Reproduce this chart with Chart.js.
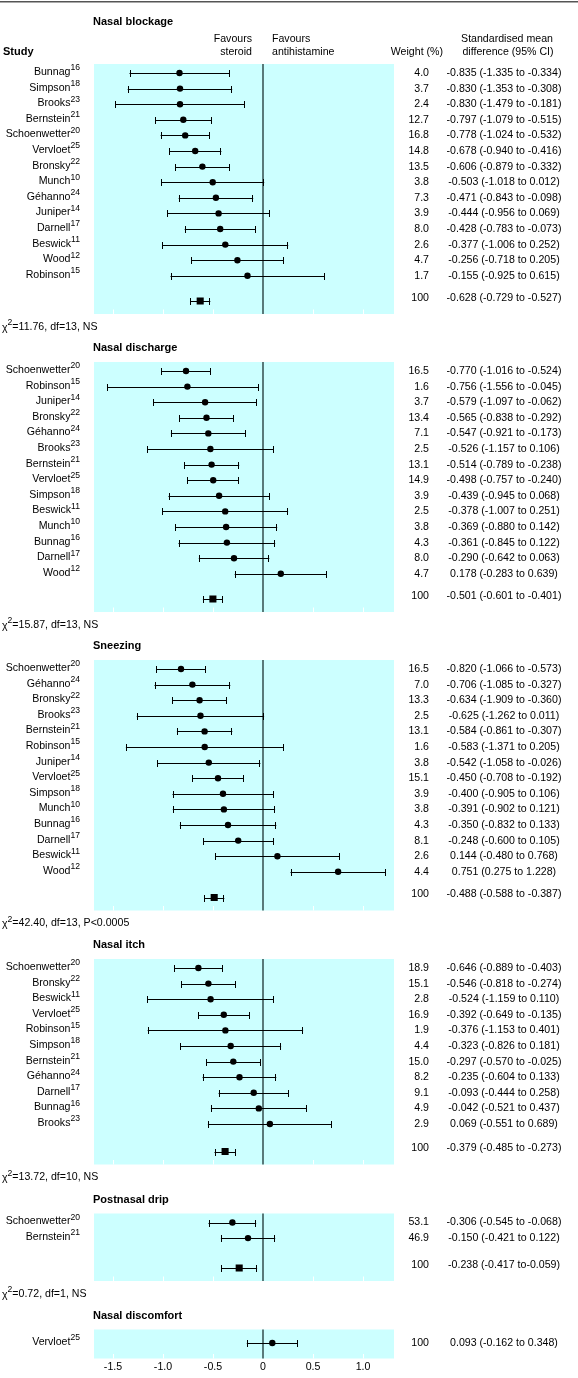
<!DOCTYPE html>
<html>
<head>
<meta charset="utf-8">
<title>Forest plot - steroid vs antihistamine</title>
<script src="https://cdn.jsdelivr.net/npm/chart.js@4.4.0/dist/chart.umd.min.js"></script>
<style>
  html, body { margin: 0; padding: 0; background: #fff; }
  .wrap { position: relative; width: 578px; height: 1378px; }
</style>
</head>
<body>
<div class="wrap"><canvas id="forest"></canvas></div>
<script>
// Reference numbers shown as superscripts
const refNumbers = {
    Bunnag: 16, Simpson: 18, Brooks: 23, Bernstein: 21, Schoenwetter: 20, Vervloet: 25, Bronsky: 22,
    Munch: 10, 'Géhanno': 24, Juniper: 14, Darnell: 17, Beswick: 11, Wood: 12, Robinson: 15
};

// Nasal blockage
const blockageStudies = ['Bunnag', 'Simpson', 'Brooks', 'Bernstein', 'Schoenwetter', 'Vervloet', 'Bronsky', 'Munch', 'Géhanno', 'Juniper', 'Darnell', 'Beswick', 'Wood', 'Robinson'];
const blockageWeights = [4.0, 3.7, 2.4, 12.7, 16.8, 14.8, 13.5, 3.8, 7.3, 3.9, 8.0, 2.6, 4.7, 1.7];
const blockageSmd = [-0.835, -0.830, -0.830, -0.797, -0.778, -0.678, -0.606, -0.503, -0.471, -0.444, -0.428, -0.377, -0.256, -0.155];
const blockageLower = [-1.335, -1.353, -1.479, -1.079, -1.024, -0.940, -0.879, -1.018, -0.843, -0.956, -0.783, -1.006, -0.718, -0.925];
const blockageUpper = [-0.334, -0.308, -0.181, -0.515, -0.532, -0.416, -0.332, 0.012, -0.098, 0.069, -0.073, 0.252, 0.205, 0.615];
const blockagePooled = [-0.628, -0.729, -0.527];
const blockageHet = ['11.76', 13, 'NS'];

// Nasal discharge
const dischargeStudies = ['Schoenwetter', 'Robinson', 'Juniper', 'Bronsky', 'Géhanno', 'Brooks', 'Bernstein', 'Vervloet', 'Simpson', 'Beswick', 'Munch', 'Bunnag', 'Darnell', 'Wood'];
const dischargeWeights = [16.5, 1.6, 3.7, 13.4, 7.1, 2.5, 13.1, 14.9, 3.9, 2.5, 3.8, 4.3, 8.0, 4.7];
const dischargeSmd = [-0.770, -0.756, -0.579, -0.565, -0.547, -0.526, -0.514, -0.498, -0.439, -0.378, -0.369, -0.361, -0.290, 0.178];
const dischargeLower = [-1.016, -1.556, -1.097, -0.838, -0.921, -1.157, -0.789, -0.757, -0.945, -1.007, -0.880, -0.845, -0.642, -0.283];
const dischargeUpper = [-0.524, -0.045, -0.062, -0.292, -0.173, 0.106, -0.238, -0.240, 0.068, 0.251, 0.142, 0.122, 0.063, 0.639];
const dischargePooled = [-0.501, -0.601, -0.401];
const dischargeHet = ['15.87', 13, 'NS'];

// Sneezing (Bronsky's lower limit is printed as -1.909 but drawn at -0.909)
const sneezingStudies = ['Schoenwetter', 'Géhanno', 'Bronsky', 'Brooks', 'Bernstein', 'Robinson', 'Juniper', 'Vervloet', 'Simpson', 'Munch', 'Bunnag', 'Darnell', 'Beswick', 'Wood'];
const sneezingWeights = [16.5, 7.0, 13.3, 2.5, 13.1, 1.6, 3.8, 15.1, 3.9, 3.8, 4.3, 8.1, 2.6, 4.4];
const sneezingSmd = [-0.820, -0.706, -0.634, -0.625, -0.584, -0.583, -0.542, -0.450, -0.400, -0.391, -0.350, -0.248, 0.144, 0.751];
const sneezingLower = [-1.066, -1.085, -0.909, -1.262, -0.861, -1.371, -1.058, -0.708, -0.905, -0.902, -0.832, -0.600, -0.480, 0.275];
const sneezingUpper = [-0.573, -0.327, -0.360, 0.011, -0.307, 0.205, -0.026, -0.192, 0.106, 0.121, 0.133, 0.105, 0.768, 1.228];
const sneezingPooled = [-0.488, -0.588, -0.387];
const sneezingHet = ['42.40', 13, 'P<0.0005'];

// Nasal itch
const itchStudies = ['Schoenwetter', 'Bronsky', 'Beswick', 'Vervloet', 'Robinson', 'Simpson', 'Bernstein', 'Géhanno', 'Darnell', 'Bunnag', 'Brooks'];
const itchWeights = [18.9, 15.1, 2.8, 16.9, 1.9, 4.4, 15.0, 8.2, 9.1, 4.9, 2.9];
const itchSmd = [-0.646, -0.546, -0.524, -0.392, -0.376, -0.323, -0.297, -0.235, -0.093, -0.042, 0.069];
const itchLower = [-0.889, -0.818, -1.159, -0.649, -1.153, -0.826, -0.570, -0.604, -0.444, -0.521, -0.551];
const itchUpper = [-0.403, -0.274, 0.110, -0.135, 0.401, 0.181, -0.025, 0.133, 0.258, 0.437, 0.689];
const itchPooled = [-0.379, -0.485, -0.273];
const itchHet = ['13.72', 10, 'NS'];

// Postnasal drip
const dripStudies = ['Schoenwetter', 'Bernstein'];
const dripWeights = [53.1, 46.9];
const dripSmd = [-0.306, -0.150];
const dripLower = [-0.545, -0.421];
const dripUpper = [-0.068, 0.122];
const dripPooled = [-0.238, -0.417, -0.059];
const dripHet = ['0.72', 1, 'NS'];

// Nasal discomfort
const discomfortStudies = ['Vervloet'];
const discomfortWeights = [100];
const discomfortSmd = [0.093];
const discomfortLower = [-0.162];
const discomfortUpper = [0.348];

// Axis
const X_MIN = -1.69;
const X_MAX = 1.31;
const xTickValues = [-1.5, -1.0, -0.5, 0, 0.5, 1.0];

// Text that is printed differently from the plotted numbers
const printedText = {
    'Sneezing:2': '-0.634 (-1.909 to -0.360)',
    'Postnasal drip:pooled': '-0.238 (-0.417 to-0.059)'
};

const panels = [
    { title: 'Nasal blockage', studies: blockageStudies, weights: blockageWeights, smd: blockageSmd, lower: blockageLower, upper: blockageUpper, pooled: blockagePooled, het: blockageHet },
    { title: 'Nasal discharge', studies: dischargeStudies, weights: dischargeWeights, smd: dischargeSmd, lower: dischargeLower, upper: dischargeUpper, pooled: dischargePooled, het: dischargeHet },
    { title: 'Sneezing', studies: sneezingStudies, weights: sneezingWeights, smd: sneezingSmd, lower: sneezingLower, upper: sneezingUpper, pooled: sneezingPooled, het: sneezingHet },
    { title: 'Nasal itch', studies: itchStudies, weights: itchWeights, smd: itchSmd, lower: itchLower, upper: itchUpper, pooled: itchPooled, het: itchHet },
    { title: 'Postnasal drip', studies: dripStudies, weights: dripWeights, smd: dripSmd, lower: dripLower, upper: dripUpper, pooled: dripPooled, het: dripHet },
    { title: 'Nasal discomfort', studies: discomfortStudies, weights: discomfortWeights, smd: discomfortSmd, lower: discomfortLower, upper: discomfortUpper, pooled: null, het: null }
];

// Layout (vertical units are page pixels on the y scale)
const FONT = '"Liberation Sans", Arial, Helvetica, sans-serif';
const FS = 10.6;
const SUP = 8.6;
const ROW_STEP = 15.6;
const FIRST_ROW = 9;
const panelBands = [[64, 314], [362, 612], [660, 910.5], [959, 1164.5], [1213.5, 1281], [1329.5, 1358.5]];
const PANEL_FILL = '#ccffff';
const ZERO_COLOR = '#3c5858';
const WEIGHT_RIGHT = 429;
const CI_CENTER = 504;
const NAME_RIGHT = 80;

const fmt = v => v.toFixed(3);
const fmtWeight = w => (w === 100 ? '100' : w.toFixed(1));

// Build rows from the arrays
const rows = [];
const layout = [];
panels.forEach((p, i) => {
    const [top, bottom] = panelBands[i];
    layout.push({ panel: p, top, bottom });
    p.studies.forEach((name, k) => {
        const y = p.pooled ? top + FIRST_ROW + k * ROW_STEP : (top + bottom) / 2 - 1;
        const key = p.title + ':' + k;
        rows.push({
            name, y, pooled: false,
            est: p.smd[k], lo: p.lower[k], hi: p.upper[k],
            weight: fmtWeight(p.weights[k]),
            ci: printedText[key] || `${fmt(p.smd[k])} (${fmt(p.lower[k])} to ${fmt(p.upper[k])})`
        });
    });
    if (p.pooled) {
        const [est, lo, hi] = p.pooled;
        rows.push({
            name: null, y: bottom - 13, pooled: true, est, lo, hi,
            weight: '100',
            ci: printedText[p.title + ':pooled'] || `${fmt(est)} (${fmt(lo)} to ${fmt(hi)})`
        });
    }
});

const studyPoints = rows.filter(r => !r.pooled).map(r => ({ x: r.est, y: r.y }));
const pooledPoints = rows.filter(r => r.pooled).map(r => ({ x: r.est, y: r.y }));

function font(size, bold) {
    return (bold ? 'bold ' : '') + size + 'px ' + FONT;
}

function text(ctx, str, x, y, align, size, bold) {
    ctx.font = font(size || FS, bold);
    ctx.textAlign = align || 'left';
    ctx.textBaseline = 'middle';
    ctx.fillText(str, x, y);
}

// name with superscript, right aligned
function supLabel(ctx, name, sup, right, y) {
    ctx.font = font(FS);
    const w1 = ctx.measureText(name).width;
    ctx.font = font(SUP);
    const w2 = ctx.measureText(String(sup)).width;
    text(ctx, name, right - w1 - w2, y - 1, 'left');
    text(ctx, String(sup), right - w2, y - 5, 'left', SUP);
}

const forestPlugin = {
    id: 'forest',
    beforeDatasetsDraw(chart) {
        const { ctx, chartArea: area, scales: { x, y } } = chart;
        const zero = x.getPixelForValue(0);
        ctx.save();
        layout.forEach(b => {
            const top = y.getPixelForValue(b.top);
            const bottom = y.getPixelForValue(b.bottom);
            ctx.fillStyle = PANEL_FILL;
            ctx.fillRect(area.left, top, area.right - area.left, bottom - top);
            // small white ticks at the foot of each panel
            ctx.strokeStyle = '#ffffff';
            ctx.lineWidth = 1;
            x.ticks.forEach(t => {
                if (t.value === 0) return;
                const px = Math.round(x.getPixelForValue(t.value)) + 0.5;
                ctx.beginPath();
                ctx.moveTo(px, bottom - 4.5);
                ctx.lineTo(px, bottom);
                ctx.stroke();
            });
            ctx.strokeStyle = ZERO_COLOR;
            ctx.lineWidth = 1.6;
            ctx.beginPath();
            ctx.moveTo(zero, top);
            ctx.lineTo(zero, bottom);
            ctx.stroke();
        });

        // confidence intervals
        ctx.strokeStyle = '#000';
        ctx.lineWidth = 1;
        rows.forEach(r => {
            const py = Math.round(y.getPixelForValue(r.y)) + 0.5;
            const lo = Math.max(r.lo, x.min);
            const hi = Math.min(r.hi, x.max);
            const x1 = x.getPixelForValue(lo);
            const x2 = x.getPixelForValue(hi);
            ctx.beginPath();
            ctx.moveTo(x1, py);
            ctx.lineTo(x2, py);
            if (r.lo >= x.min) { ctx.moveTo(Math.round(x1) + 0.5, py - 3.5); ctx.lineTo(Math.round(x1) + 0.5, py + 3.5); }
            if (r.hi <= x.max) { ctx.moveTo(Math.round(x2) - 0.5, py - 3.5); ctx.lineTo(Math.round(x2) - 0.5, py + 3.5); }
            ctx.stroke();
        });
        ctx.restore();
    },
    afterDraw(chart) {
        const { ctx, chartArea: area, scales: { x, y } } = chart;
        const zero = x.getPixelForValue(0);
        ctx.save();

        // rule across the top
        ctx.fillStyle = '#555';
        ctx.fillRect(0, 1, chart.width, 1.5);
        ctx.fillStyle = '#000';

        // column headings
        text(ctx, 'Study', 3, 52, 'left', FS + 0.4, true);
        text(ctx, 'Favours', zero - 11, 39, 'right');
        text(ctx, 'steroid', zero - 11, 52, 'right');
        text(ctx, 'Favours', zero + 9, 39, 'left');
        text(ctx, 'antihistamine', zero + 9, 52, 'left');
        text(ctx, 'Weight (%)', WEIGHT_RIGHT + 14, 52, 'right');
        text(ctx, 'Standardised mean', CI_CENTER + 3, 39, 'center');
        text(ctx, 'difference (95% CI)', CI_CENTER + 4, 52, 'center');

        layout.forEach((b, i) => {
            const top = y.getPixelForValue(b.top);
            const bottom = y.getPixelForValue(b.bottom);
            const titleY = i === 0 ? 21.7 : top - 14;
            text(ctx, b.panel.title, area.left - 1, titleY, 'left', FS + 0.4, true);
            if (b.panel.het) {
                const [chi, df, p] = b.panel.het;
                const hy = bottom + 13;
                ctx.font = font(FS);
                const wChi = ctx.measureText('χ').width;
                text(ctx, 'χ', 2, hy + 1, 'left');
                text(ctx, '2', 2 + wChi, hy - 4, 'left', SUP);
                ctx.font = font(SUP);
                const w2 = ctx.measureText('2').width;
                text(ctx, `=${chi}, df=${df}, ${p}`, 2 + wChi + w2, hy, 'left');
            }
        });

        rows.forEach(r => {
            const py = y.getPixelForValue(r.y);
            const ty = r.pooled ? py - 3 : py;
            if (r.name) supLabel(ctx, r.name, refNumbers[r.name], NAME_RIGHT, py);
            text(ctx, r.weight, WEIGHT_RIGHT, ty, 'right');
            text(ctx, r.ci, CI_CENTER, ty, 'center');
        });
        ctx.restore();
    }
};

const chart = new Chart(document.getElementById('forest'), {
    type: 'scatter',
    data: {
        datasets: [
            {
                label: 'Study',
                data: studyPoints,
                pointStyle: 'circle',
                pointRadius: 3.2,
                backgroundColor: '#000',
                borderWidth: 0
            },
            {
                label: 'Pooled',
                data: pooledPoints,
                pointStyle: 'rect',
                pointRadius: 5,
                backgroundColor: '#000',
                borderWidth: 0
            }
        ]
    },
    options: {
        responsive: true,
        maintainAspectRatio: false,
        animation: false,
        layout: {
            autoPadding: false,
            padding: { left: 94, right: 184, top: 0, bottom: 0 }
        },
        plugins: {
            legend: { display: false },
            tooltip: { enabled: false }
        },
        scales: {
            x: {
                type: 'linear',
                min: X_MIN,
                max: X_MAX,
                bounds: 'data',
                grid: { display: false, drawTicks: false },
                border: { display: false },
                afterBuildTicks: axis => {
                    axis.ticks = xTickValues.map(v => ({ value: v }));
                },
                ticks: {
                    padding: 5,
                    color: '#000',
                    font: { family: FONT, size: FS },
                    callback: v => (v === 0 ? '0' : v.toFixed(1))
                }
            },
            y: {
                type: 'linear',
                min: 0,
                max: 1360,
                bounds: 'data',
                reverse: true,
                display: false
            }
        }
    },
    plugins: [forestPlugin]
});

// make one y unit equal one page pixel
chart.options.scales.y.min = chart.chartArea.top;
chart.options.scales.y.max = chart.chartArea.bottom;
chart.update();
</script>
</body>
</html>
